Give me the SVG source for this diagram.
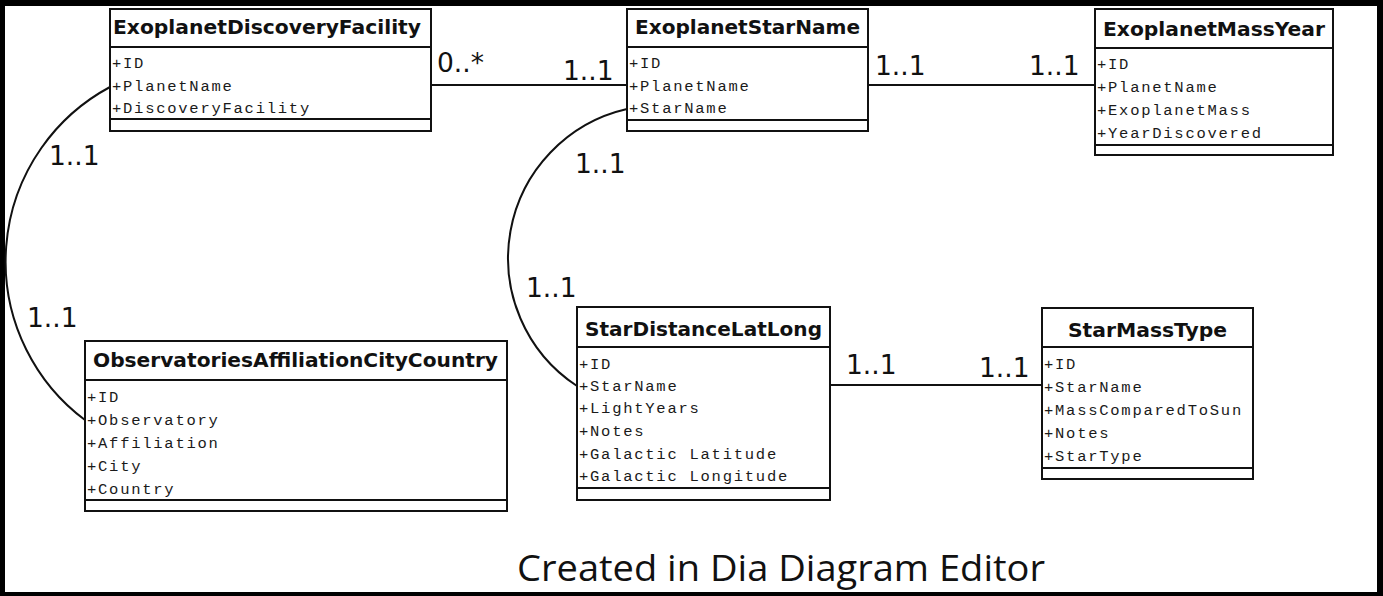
<svg xmlns="http://www.w3.org/2000/svg" width="1383" height="596" viewBox="0 0 1383 596">
  <style>
    .box { fill: #ffffff; stroke: #111111; stroke-width: 2; }
    .sep { stroke: #111111; stroke-width: 2; }
    .hdr { font-family: "DejaVu Sans", "Liberation Sans", sans-serif; font-weight: bold; font-size: 19px; fill: #111111; text-anchor: middle; }
    .attr { font-family: "Liberation Mono", "DejaVu Sans Mono", monospace; font-size: 15.5px; letter-spacing: 1.75px; fill: #1a1a1a; }
    .conn { fill: none; stroke: #111111; stroke-width: 2; }
    .mult { font-family: "DejaVu Sans", "Liberation Sans", sans-serif; font-size: 26.5px; fill: #111111; }
    .caption { font-family: "Open Sans", "Noto Sans", sans-serif; font-size: 37px; fill: #111111; }
  </style>

  <!-- frame -->
  <rect x="0" y="0" width="1383" height="596" fill="#000000"/>
  <rect x="5" y="6" width="1372" height="586" fill="#ffffff"/>

  <!-- associations -->
  <g id="connectors">
    <path class="conn" d="M431,85 H627"/>
    <path class="conn" d="M868,85 H1095"/>
    <path class="conn" d="M830,385 H1042"/>
    <path class="conn" d="M110,87 A198,198 0 0,0 85,420"/>
    <path class="conn" d="M627,109 A153,153 0 0,0 577,386"/>
    <text class="mult" x="437" y="72">0..*</text>
    <text class="mult" x="563" y="80">1..1</text>
    <text class="mult" x="875" y="75">1..1</text>
    <text class="mult" x="1029" y="75">1..1</text>
    <text class="mult" x="49" y="165">1..1</text>
    <text class="mult" x="27" y="327">1..1</text>
    <text class="mult" x="575" y="173">1..1</text>
    <text class="mult" x="526" y="297">1..1</text>
    <text class="mult" x="846" y="374">1..1</text>
    <text class="mult" x="979" y="377">1..1</text>
  </g>

  <g id="ExoplanetDiscoveryFacility">
    <rect class="box" x="110" y="9" width="321" height="122"/>
    <line class="sep" x1="110" y1="47" x2="431" y2="47"/>
    <line class="sep" x1="110" y1="119" x2="431" y2="119"/>
    <text class="hdr" x="267" y="34" textLength="308" lengthAdjust="spacingAndGlyphs">ExoplanetDiscoveryFacility</text>
    <text class="attr" x="112" y="68">+ID</text>
    <text class="attr" x="112" y="91">+PlanetName</text>
    <text class="attr" x="112" y="113">+DiscoveryFacility</text>
  </g>

  <g id="ExoplanetStarName">
    <rect class="box" x="627" y="9" width="241" height="122"/>
    <line class="sep" x1="627" y1="47" x2="868" y2="47"/>
    <line class="sep" x1="627" y1="120" x2="868" y2="120"/>
    <text class="hdr" x="747.5" y="34" textLength="225" lengthAdjust="spacingAndGlyphs">ExoplanetStarName</text>
    <text class="attr" x="629" y="68">+ID</text>
    <text class="attr" x="629" y="91">+PlanetName</text>
    <text class="attr" x="629" y="113">+StarName</text>
  </g>

  <g id="ExoplanetMassYear">
    <rect class="box" x="1095" y="9" width="238" height="146"/>
    <line class="sep" x1="1095" y1="48" x2="1333" y2="48"/>
    <line class="sep" x1="1095" y1="145" x2="1333" y2="145"/>
    <text class="hdr" x="1214" y="36" textLength="222" lengthAdjust="spacingAndGlyphs">ExoplanetMassYear</text>
    <text class="attr" x="1097" y="69">+ID</text>
    <text class="attr" x="1097" y="92">+PlanetName</text>
    <text class="attr" x="1097" y="115">+ExoplanetMass</text>
    <text class="attr" x="1097" y="138">+YearDiscovered</text>
  </g>

  <g id="ObservatoriesAffiliationCityCountry">
    <rect class="box" x="85" y="341" width="422" height="170"/>
    <line class="sep" x1="85" y1="380" x2="507" y2="380"/>
    <line class="sep" x1="85" y1="500" x2="507" y2="500"/>
    <text class="hdr" x="295.5" y="367" textLength="405" lengthAdjust="spacingAndGlyphs">ObservatoriesAffiliationCityCountry</text>
    <text class="attr" x="87" y="402">+ID</text>
    <text class="attr" x="87" y="425">+Observatory</text>
    <text class="attr" x="87" y="448">+Affiliation</text>
    <text class="attr" x="87" y="471">+City</text>
    <text class="attr" x="87" y="494">+Country</text>
  </g>

  <g id="StarDistanceLatLong">
    <rect class="box" x="577" y="307" width="253" height="193"/>
    <line class="sep" x1="577" y1="347" x2="830" y2="347"/>
    <line class="sep" x1="577" y1="488" x2="830" y2="488"/>
    <text class="hdr" x="703.5" y="336" textLength="237" lengthAdjust="spacingAndGlyphs">StarDistanceLatLong</text>
    <text class="attr" x="579" y="369">+ID</text>
    <text class="attr" x="579" y="391">+StarName</text>
    <text class="attr" x="579" y="413">+LightYears</text>
    <text class="attr" x="579" y="436">+Notes</text>
    <text class="attr" x="579" y="459">+Galactic Latitude</text>
    <text class="attr" x="579" y="481">+Galactic Longitude</text>
  </g>

  <g id="StarMassType">
    <rect class="box" x="1042" y="308" width="211" height="171"/>
    <line class="sep" x1="1042" y1="347" x2="1253" y2="347"/>
    <line class="sep" x1="1042" y1="468" x2="1253" y2="468"/>
    <text class="hdr" x="1147.5" y="337" textLength="159" lengthAdjust="spacingAndGlyphs">StarMassType</text>
    <text class="attr" x="1044" y="369">+ID</text>
    <text class="attr" x="1044" y="392">+StarName</text>
    <text class="attr" x="1044" y="415">+MassComparedToSun</text>
    <text class="attr" x="1044" y="438">+Notes</text>
    <text class="attr" x="1044" y="461">+StarType</text>
  </g>

  <text class="caption" x="517" y="581" textLength="528" lengthAdjust="spacingAndGlyphs">Created in Dia Diagram Editor</text>
</svg>
